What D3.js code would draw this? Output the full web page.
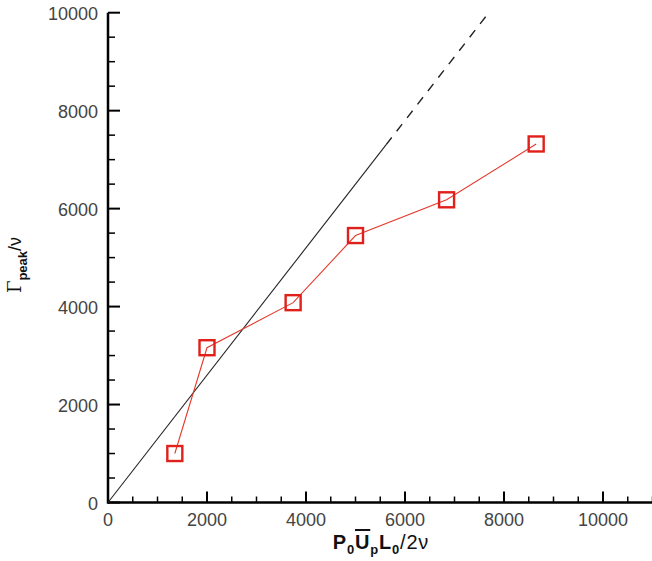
<!DOCTYPE html>
<html><head><meta charset="utf-8">
<script src="https://cdn.jsdelivr.net/npm/d3@7"></script>
<style>
html,body{margin:0;padding:0;background:#fff;}
svg{display:block;}
text{font-family:"Liberation Sans",Arial,sans-serif;}
</style></head>
<body><div id="chart"></div>
<script>
// Data
const xValues = [1350, 2000, 3740, 5000, 6840, 8650];
const yValues = [1000, 3160, 4080, 5450, 6180, 7320];
const refSolidX = [0, 5620];
const refDashedX = [5620, 7690];
const refSlope = 1.3;
const xTicks = [0, 2000, 4000, 6000, 8000, 10000];
const yTicks = [0, 2000, 4000, 6000, 8000, 10000];

const W = 652, H = 561;
const svg = d3.select("#chart").append("svg").attr("width", W).attr("height", H);

const x = d3.scaleLinear().domain([0, 11000]).range([108, 652.5]);
const y = d3.scaleLinear().domain([0, 10000]).range([502.5, 12.7]);

// Minor ticks
const xMinor = d3.range(0, 11001, 500).filter(v => v % 2000 !== 0);
const yMinor = d3.range(0, 10001, 500).filter(v => v % 2000 !== 0);

const gAx = svg.append("g");
gAx.selectAll(".xmin").data(xMinor).enter().append("line")
  .attr("x1", d => x(d)).attr("x2", d => x(d)).attr("y1", y(0)).attr("y2", y(0) - 6)
  .attr("stroke", "#000").attr("stroke-width", 1.5);
gAx.selectAll(".xmaj").data(xTicks).enter().append("line")
  .attr("x1", d => x(d)).attr("x2", d => x(d)).attr("y1", y(0)).attr("y2", y(0) - 11)
  .attr("stroke", "#000").attr("stroke-width", 2);
gAx.selectAll(".ymin").data(yMinor).enter().append("line")
  .attr("y1", d => y(d)).attr("y2", d => y(d)).attr("x1", x(0)).attr("x2", x(0) + 7)
  .attr("stroke", "#000").attr("stroke-width", 1.5);
gAx.selectAll(".ymaj").data(yTicks).enter().append("line")
  .attr("y1", d => y(d)).attr("y2", d => y(d)).attr("x1", x(0)).attr("x2", x(0) + 12)
  .attr("stroke", "#000").attr("stroke-width", 2);

// Axis lines
gAx.append("line").attr("x1", x(0)).attr("x2", x(11000)).attr("y1", y(0)).attr("y2", y(0))
  .attr("stroke", "#000").attr("stroke-width", 2.5);
gAx.append("line").attr("x1", x(0)).attr("x2", x(0)).attr("y1", y(0)+1.2).attr("y2", y(10000))
  .attr("stroke", "#000").attr("stroke-width", 2.5);

// Tick labels
gAx.selectAll(".xl").data(xTicks).enter().append("text")
  .attr("x", d => x(d)).attr("y", y(0) + 23)
  .attr("text-anchor", "middle").attr("font-size", 18).attr("fill", "#444")
  .text(d => d);
gAx.selectAll(".yl").data(yTicks).enter().append("text")
  .attr("x", x(0) - 10).attr("y", d => y(d) + 7)
  .attr("text-anchor", "end").attr("font-size", 18).attr("fill", "#444")
  .text(d => d);

// Reference line
const refLine = d3.line().x(d => x(d)).y(d => y(d * refSlope));
svg.append("path").datum(refSolidX).attr("d", refLine)
  .attr("fill", "none").attr("stroke", "#222").attr("stroke-width", 1.1);
svg.append("path").datum(refDashedX).attr("d", refLine)
  .attr("fill", "none").attr("stroke", "#222").attr("stroke-width", 1.4)
  .attr("stroke-dasharray", "9,8");

// Data series
const pts = xValues.map((v, i) => [v, yValues[i]]);
svg.append("path").datum(pts)
  .attr("d", d3.line().x(d => x(d[0])).y(d => y(d[1])))
  .attr("fill", "none").attr("stroke", "#e5392c").attr("stroke-width", 1.1);
const s = 15;
svg.selectAll(".mk").data(pts).enter().append("rect")
  .attr("x", d => x(d[0]) - s/2).attr("y", d => y(d[1]) - s/2)
  .attr("width", s).attr("height", s)
  .attr("fill", "none").attr("stroke", "#e0201a").attr("stroke-width", 2.4);

// Y label (rotated)
const yl = svg.append("text")
  .attr("transform", "translate(21,265) rotate(-90)")
  .attr("text-anchor", "middle").attr("fill", "#111");
yl.append("tspan").attr("font-size", 18).attr("font-family", "DejaVu Serif, serif").text("Γ");
yl.append("tspan").attr("font-size", 13).attr("font-weight", "bold").attr("dy", 6).text("peak");
yl.append("tspan").attr("font-size", 18).attr("dy", -6).text("/ν");

// X label
const xl = svg.append("text")
  .attr("x", 381).attr("y", 549)
  .attr("text-anchor", "middle").attr("fill", "#111").attr("font-weight", "bold")
  .attr("letter-spacing", 0.8);
xl.append("tspan").attr("font-size", 20).text("P");
xl.append("tspan").attr("font-size", 13).attr("dy", 5).text("0");
xl.append("tspan").attr("font-size", 20).attr("dy", -5).attr("text-decoration", "overline").text("U");
xl.append("tspan").attr("font-size", 13).attr("dy", 5).text("p");
xl.append("tspan").attr("font-size", 20).attr("dy", -5).text("L");
xl.append("tspan").attr("font-size", 13).attr("dy", 5).text("0");
xl.append("tspan").attr("font-size", 20).attr("dy", -5).attr("font-weight", "normal").text("/2ν");
</script>
</body></html>
